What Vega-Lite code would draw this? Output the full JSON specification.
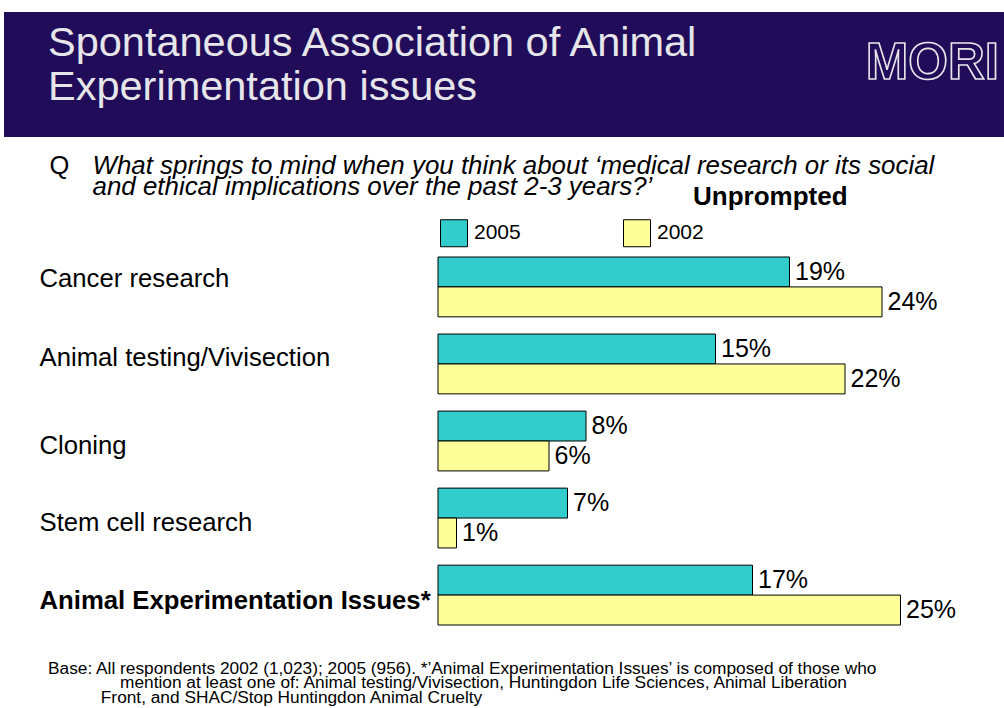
{
  "$schema": "https://vega.github.io/schema/vega-lite/v6.json",
  "padding": {"left": 4, "top": 12, "right": 0, "bottom": 0},
  "background": "white",
  "config": {"font": "Liberation Sans", "view": {"stroke": null}},
  "spacing": 0,
  "bounds": "flush",
  "vconcat": [
    {
      "width": 1000,
      "height": 125,
      "view": {"fill": "#200c58", "stroke": null},
      "title": {
        "text": ["Spontaneous Association of Animal", "Experimentation issues"],
        "subtitle": [
          "Base: All respondents 2002 (1,023); 2005 (956). *’Animal Experimentation Issues’ is composed of those who",
          "\u200b\u00a0\u00a0\u00a0\u00a0\u00a0\u00a0\u00a0\u00a0\u00a0\u00a0\u00a0\u00a0\u00a0\u00a0\u00a0mention at least one of: Animal testing/Vivisection, Huntingdon Life Sciences, Animal Liberation",
          "\u200b\u00a0\u00a0\u00a0\u00a0\u00a0\u00a0\u00a0\u00a0\u00a0\u00a0\u00a0Front, and SHAC/Stop Huntingdon Animal Cruelty"
        ],
        "anchor": "start",
        "frame": "group",
        "orient": "top",
        "offset": 0,
        "dx": 44,
        "dy": 694,
        "color": "#e6e6ea",
        "fontSize": 41.5,
        "fontWeight": "normal",
        "lineHeight": 44,
        "subtitleColor": "black",
        "subtitleFontSize": 17.3,
        "subtitleLineHeight": 14.5,
        "subtitlePadding": 551
      },
      "data": {"values": [{"logo": "MORI"}]},
      "mark": {
        "type": "text",
        "x": {"expr": "width - 5"},
        "y": {"expr": "52"},
        "align": "right",
        "baseline": "middle",
        "fontSize": 51,
        "fontWeight": "bold",
        "fill": "#200c58",
        "stroke": "#e6e6ea",
        "strokeWidth": 1.6
      },
      "encoding": {"text": {"field": "logo", "type": "nominal"}}
    },
    {
      "width": 1000,
      "height": 571,
      "title": {
        "text": "Unprompted",
        "anchor": "start",
        "frame": "group",
        "offset": 0,
        "dx": 689,
        "dy": 73,
        "fontSize": 26,
        "fontWeight": "bold",
        "color": "black"
      },
      "data": {
        "values": [
          {"issue": "Cancer research", "year": "2005", "share": 0.19},
          {"issue": "Cancer research", "year": "2002", "share": 0.24},
          {"issue": "Animal testing/Vivisection", "year": "2005", "share": 0.15},
          {"issue": "Animal testing/Vivisection", "year": "2002", "share": 0.22},
          {"issue": "Cloning", "year": "2005", "share": 0.08},
          {"issue": "Cloning", "year": "2002", "share": 0.06},
          {"issue": "Stem cell research", "year": "2005", "share": 0.07},
          {"issue": "Stem cell research", "year": "2002", "share": 0.01},
          {"issue": "Animal Experimentation Issues*", "year": "2005", "share": 0.17},
          {"issue": "Animal Experimentation Issues*", "year": "2002", "share": 0.25}
        ]
      },
      "encoding": {
        "x": {
          "field": "share",
          "type": "quantitative",
          "scale": {"domain": [-0.234595, 0.305946], "nice": false, "zero": false},
          "axis": {
            "orient": "top",
            "labels": false,
            "ticks": false,
            "domain": false,
            "grid": false,
            "title": ["What springs to mind when you think about ‘medical research or its social", "and ethical implications over the past 2-3 years?’"],
            "titleX": 88,
            "titleY": 36,
            "titleAlign": "left",
            "titleBaseline": "alphabetic",
            "titleFontSize": 25.9,
            "titleFontStyle": "italic",
            "titleFontWeight": "normal",
            "titleLineHeight": 21,
            "titleColor": "black"
          }
        },
        "y": {
          "field": "issue",
          "type": "nominal",
          "sort": null,
          "scale": {"range": [120, 488], "paddingInner": 0.2233, "paddingOuter": 0},
          "axis": {
            "title": "Q",
            "titleAngle": 0,
            "titleX": 45,
            "titleY": 36,
            "titleAlign": "left",
            "titleBaseline": "alphabetic",
            "titleFontSize": 25.5,
            "titleFontWeight": "normal",
            "titleColor": "black",
            "labelAlign": "left",
            "labelBaseline": "middle",
            "labelPadding": -35,
            "labelFontSize": 25.7,
            "labelLimit": 600,
            "labelColor": "black",
            "labelFontWeight": {"expr": "datum.value == 'Animal Experimentation Issues*' ? 'bold' : 'normal'"},
            "labelOffset": {"expr": "datum.value == 'Cancer research' ? -8 : datum.value == 'Animal testing/Vivisection' ? -6 : datum.value == 'Animal Experimentation Issues*' ? 6 : 5"},
            "ticks": false,
            "domain": false,
            "grid": false
          }
        },
        "yOffset": {"field": "year", "type": "nominal", "sort": ["2005", "2002"], "scale": {"paddingInner": 0, "paddingOuter": 0}}
      },
      "layer": [
        {
          "mark": {"type": "bar", "stroke": "black", "strokeWidth": 1},
          "encoding": {
            "color": {
              "field": "year",
              "type": "nominal",
              "sort": ["2005", "2002"],
              "scale": {"domain": ["2005", "2002"], "range": ["#33cccc", "#ffff99"]},
              "legend": {
                "title": null,
                "orient": "none",
                "legendX": 436,
                "legendY": 207,
                "direction": "horizontal",
                "padding": 0,
                "symbolType": "square",
                "symbolSize": 729,
                "symbolStrokeColor": "black",
                "symbolStrokeWidth": 1,
                "symbolOpacity": 1,
                "labelFontSize": 21,
                "labelOffset": 6,
                "labelColor": "black",
                "columnPadding": 100
              }
            }
          }
        },
        {
          "mark": {"type": "text", "align": "left", "baseline": "middle", "dx": 5.5, "fontSize": 25, "color": "black"},
          "encoding": {"text": {"field": "share", "type": "quantitative", "format": ".0%"}}
        }
      ]
    }
  ]
}
